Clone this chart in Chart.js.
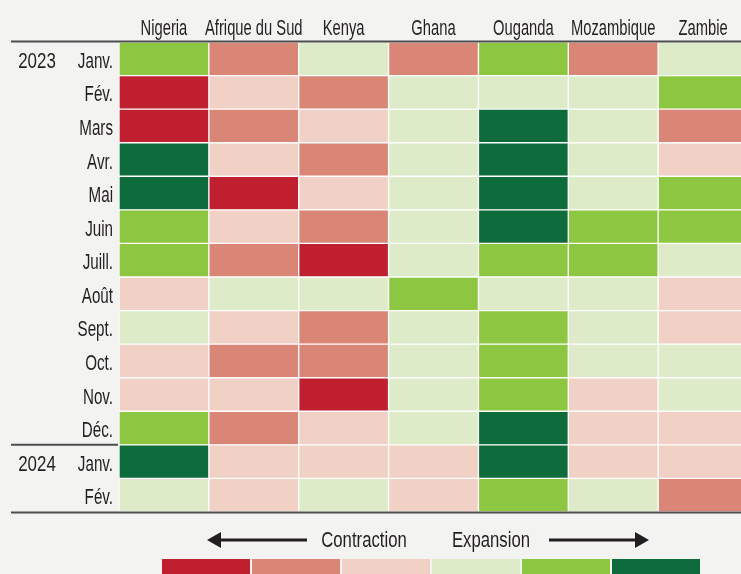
<!DOCTYPE html>
<html lang="fr">
<head>
<meta charset="utf-8">
<script src="https://cdn.jsdelivr.net/npm/chart.js@4.4.1/dist/chart.umd.min.js"></script>
<style>
  html, body { margin: 0; padding: 0; background: #f3f3f1; overflow: hidden; }
  #wrap { width: 748px; height: 574px; position: relative; }
</style>
</head>
<body>
<div id="wrap"><canvas id="heatChart"></canvas></div>
<script>
const countries = ["Nigeria", "Afrique du Sud", "Kenya", "Ghana", "Ouganda", "Mozambique", "Zambie"];
const months = ["Janv.", "Fév.", "Mars", "Avr.", "Mai", "Juin", "Juill.", "Août", "Sept.", "Oct.", "Nov.", "Déc.", "Janv.", "Fév."];
const years = ["2023", "2024"];
const yearRows = [0, 12];

// niveaux : 1 = forte contraction ... 6 = forte expansion
const nigeria    = [5, 1, 1, 6, 6, 5, 5, 3, 4, 3, 3, 5, 6, 4];
const southAfrica = [2, 3, 2, 3, 1, 3, 2, 4, 3, 2, 3, 2, 3, 3];
const kenya      = [4, 2, 3, 2, 3, 2, 1, 4, 2, 2, 1, 3, 3, 4];
const ghana      = [2, 4, 4, 4, 4, 4, 4, 5, 4, 4, 4, 4, 3, 3];
const uganda     = [5, 4, 6, 6, 6, 6, 5, 4, 5, 5, 5, 6, 6, 5];
const mozambique = [2, 4, 4, 4, 4, 5, 5, 4, 4, 4, 3, 3, 3, 4];
const zambia     = [4, 5, 2, 3, 5, 5, 4, 3, 3, 4, 4, 3, 3, 2];

const levels = [1, 2, 3, 4, 5, 6];
const levelColors = ["#c01f2f", "#d98677", "#f1d1c6", "#deebc8", "#8dc641", "#0e6b3b"];
const legendWords = ["Contraction", "Expansion"];

const seriesByCountry = [nigeria, southAfrica, kenya, ghana, uganda, mozambique, zambia];

const fontFamily = "'Liberation Sans Narrow', 'Liberation Sans', sans-serif";
const inkColor = "#231f20";
const ruleColor = "#4d4d4f";

// texte resserré pour imiter la police condensée
function narrowText(ctx, text, x, y, align, size, squeeze) {
    ctx.save();
    ctx.font = `${size}px ${fontFamily}`;
    ctx.textAlign = align;
    ctx.textBaseline = 'alphabetic';
    ctx.fillStyle = inkColor;
    ctx.translate(x, y);
    ctx.scale(squeeze, 1);
    ctx.fillText(text, 0, 0);
    ctx.restore();
}

function rule(ctx, x1, x2, y, w) {
    ctx.save();
    ctx.strokeStyle = ruleColor;
    ctx.lineWidth = w;
    ctx.beginPath();
    ctx.moveTo(x1, y);
    ctx.lineTo(x2, y);
    ctx.stroke();
    ctx.restore();
}

function arrow(ctx, xFrom, xTip, y) {
    const dir = Math.sign(xTip - xFrom);
    ctx.save();
    ctx.strokeStyle = inkColor;
    ctx.fillStyle = inkColor;
    ctx.lineWidth = 3;
    ctx.beginPath();
    ctx.moveTo(xFrom, y);
    ctx.lineTo(xTip - dir * 12, y);
    ctx.stroke();
    ctx.beginPath();
    ctx.moveTo(xTip, y);
    ctx.lineTo(xTip - dir * 14, y - 8);
    ctx.lineTo(xTip - dir * 14, y + 8);
    ctx.closePath();
    ctx.fill();
    ctx.restore();
}

const heatLabels = {
    id: 'heatLabels',
    beforeDraw(chart) {
        const ctx = chart.ctx;
        ctx.save();
        ctx.fillStyle = '#f3f3f1';
        ctx.fillRect(0, 0, chart.width, chart.height);
        ctx.restore();
    },
    afterDraw(chart) {
        const ctx = chart.ctx;
        const x = chart.scales.x, y = chart.scales.y;
        const area = chart.chartArea;

        // en-têtes des pays
        countries.forEach((c, i) => {
            narrowText(ctx, c, x.getPixelForValue(i + 0.5), 35, 'center', 22, 0.67);
        });

        // mois et années
        months.forEach((m, i) => {
            narrowText(ctx, m, 113, y.getPixelForValue(i) + 9, 'right', 22, 0.69);
        });
        years.forEach((yr, k) => {
            narrowText(ctx, yr, 37, y.getPixelForValue(yearRows[k]) + 9, 'center', 22, 0.77);
        });

        // filets
        rule(ctx, 11, chart.width, area.top - 0.5, 2);
        const sep = (y.getPixelForValue(yearRows[1] - 1) + y.getPixelForValue(yearRows[1])) / 2;
        rule(ctx, 11, area.left - 1, sep, 2);
        rule(ctx, 11, chart.width, area.bottom + 0.5, 2);

        // légende
        arrow(ctx, 307, 207, 540);
        arrow(ctx, 549, 649, 540);
        narrowText(ctx, legendWords[0], 364, 547, 'center', 22, 0.76);
        narrowText(ctx, legendWords[1], 491, 547, 'center', 22, 0.76);
        levels.forEach((lv, i) => {
            ctx.fillStyle = levelColors[lv - 1];
            ctx.fillRect(162 + i * 90, 559, 88, 22);
        });
    }
};

const ctx = document.getElementById('heatChart').getContext('2d');
new Chart(ctx, {
    type: 'bar',
    data: {
        labels: months,
        datasets: countries.map((c, i) => ({
            label: c,
            data: months.map(() => 1),
            backgroundColor: seriesByCountry[i].map(v => levelColors[v - 1]),
            borderColor: '#ffffff',
            borderWidth: 1,
            borderSkipped: false,
            barPercentage: 1,
            categoryPercentage: 1
        }))
    },
    options: {
        indexAxis: 'y',
        responsive: true,
        maintainAspectRatio: false,
        animation: false,
        layout: { padding: { left: 119, top: 42, right: 0, bottom: 62 } },
        scales: {
            x: { stacked: true, min: 0, max: countries.length, display: false },
            y: { stacked: true, display: false, grid: { display: false } }
        },
        plugins: { legend: { display: false }, tooltip: { enabled: false } }
    },
    plugins: [heatLabels]
});
</script>
</body>
</html>
